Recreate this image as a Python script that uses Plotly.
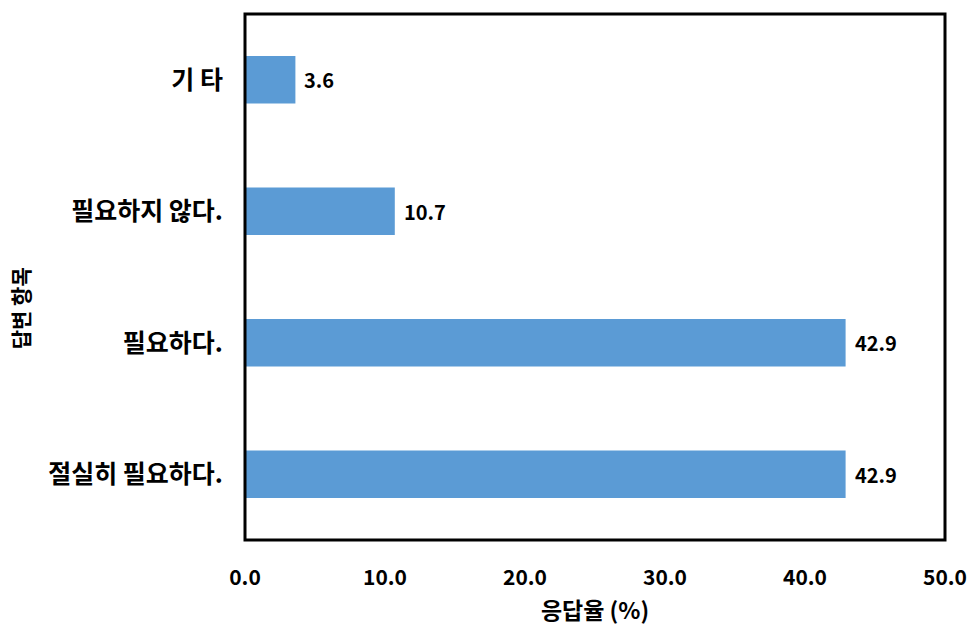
import plotly.graph_objects as go

categories = ["절실히 필요하다.", "필요하다.", "필요하지 않다.", "기 타"]
values = [42.9, 42.9, 10.7, 3.6]
x_ticks = [0, 10, 20, 30, 40, 50]
x_tick_labels = ["0.0", "10.0", "20.0", "30.0", "40.0", "50.0"]

FONT = "Noto Sans CJK KR"
BAR_COLOR = "#5B9BD5"

fig = go.Figure()
fig.add_trace(go.Bar(
    y=categories, x=values, orientation="h",
    marker=dict(color=BAR_COLOR, line=dict(width=0)),
    width=0.36,
))

for c, v in zip(categories, values):
    fig.add_annotation(
        x=v, y=c, text=f"<b>{v:.1f}</b>", showarrow=False,
        xanchor="left", xshift=7,
        font=dict(family=FONT, size=20, color="black"),
    )

fig.add_annotation(
    xref="paper", yref="paper", x=-0.321, y=0.441,
    text="<b>답변 항목</b>", textangle=-90, showarrow=False,
    xanchor="center", yanchor="middle",
    font=dict(family=FONT, size=21, color="black"),
)

fig.update_layout(
    width=978, height=640,
    margin=dict(l=245, r=33, t=14, b=100),
    plot_bgcolor="white", paper_bgcolor="white",
    showlegend=False,
    font=dict(family=FONT, color="black"),
    xaxis=dict(
        range=[0, 50], tickvals=x_ticks, ticktext=[f"<b>{t}</b>" for t in x_tick_labels],
        showgrid=False, zeroline=False, showline=False,
        ticks="outside", ticklen=19, tickcolor="rgba(0,0,0,0)",
        tickfont=dict(family=FONT, size=21, color="black"),
        title=dict(text="<b>응답율 (%)</b>", font=dict(family=FONT, size=23, color="black"), standoff=12),
        fixedrange=True,
    ),
    yaxis=dict(
        categoryorder="array", categoryarray=categories,
        showgrid=False, zeroline=False, showline=False,
        ticks="outside", ticklen=16, tickcolor="rgba(0,0,0,0)",
        ticktext=[f"<b>{c}</b>" for c in categories], tickvals=categories,
        tickfont=dict(family=FONT, size=25, color="black"),
        range=[-0.5, 3.5],
    ),
)

fig.add_shape(type="rect", xref="paper", yref="paper", x0=0, y0=0, x1=1, y1=1,
              line=dict(color="black", width=3), layer="above")

fig.write_html("out.html")
